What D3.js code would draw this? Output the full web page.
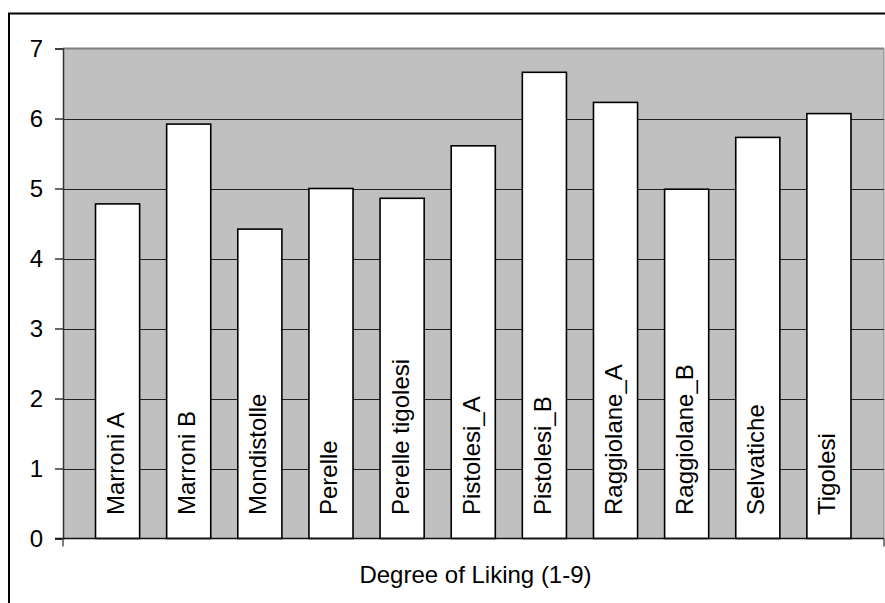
<!DOCTYPE html>
<html>
<head>
<meta charset="utf-8">
<script src="https://cdn.jsdelivr.net/npm/d3@7"></script>
<style>
  html, body { margin: 0; padding: 0; background: #fff; }
  svg { display: block; }
  text { font-family: "Liberation Sans", Arial, sans-serif; fill: #000; }
</style>
</head>
<body>
<svg id="chart" width="885" height="603"></svg>
<script>
// Liking scores per variety
const categories = ["Marroni A", "Marroni B", "Mondistolle", "Perelle", "Perelle tigolesi",
  "Pistolesi_A", "Pistolesi_B", "Raggiolane_A", "Raggiolane_B", "Selvatiche", "Tigolesi"];
const liking = [4.78, 5.92, 4.42, 5.0, 4.86, 5.61, 6.66, 6.23, 4.99, 5.73, 6.07];
const yTicks = [0, 1, 2, 3, 4, 5, 6, 7];
const axisTitle = "Degree of Liking (1-9)";

const svg = d3.select("#chart");

// plot frame
const plot = { left: 63, right: 884, top: 48.5, bottom: 538.5 };

// chart area border (runs past the window edge on the right and bottom)
svg.append("rect")
  .attr("x", 9).attr("y", 13.5)
  .attr("width", 900).attr("height", 620)
  .attr("fill", "#fff").attr("stroke", "#000").attr("stroke-width", 2);

const y = d3.scaleLinear().domain([0, 7]).range([plot.bottom, plot.top]);
const x = d3.scaleBand().domain(categories).range([82, 864.5]).paddingInner(0.38).paddingOuter(0.19);

// plot background
svg.append("rect")
  .attr("x", plot.left).attr("y", plot.top)
  .attr("width", plot.right - plot.left).attr("height", plot.bottom - plot.top)
  .attr("fill", "#c0c0c0");
svg.append("line")
  .attr("x1", plot.left).attr("x2", plot.right)
  .attr("y1", plot.top).attr("y2", plot.top)
  .attr("stroke", "#808080").attr("stroke-width", 2);
svg.append("line")
  .attr("x1", plot.right).attr("x2", plot.right)
  .attr("y1", plot.top).attr("y2", plot.bottom)
  .attr("stroke", "#808080").attr("stroke-width", 1);

// horizontal gridlines
svg.append("g").selectAll("line")
  .data(yTicks.filter(d => d > 0 && d < 7))
  .join("line")
  .attr("x1", plot.left).attr("x2", plot.right)
  .attr("y1", d => Math.round(y(d)) + 0.5).attr("y2", d => Math.round(y(d)) + 0.5)
  .attr("stroke", "#222").attr("stroke-width", 1);

// bars
svg.append("g").selectAll("rect")
  .data(categories)
  .join("rect")
  .attr("x", d => x(d))
  .attr("y", (d, i) => y(liking[i]))
  .attr("width", x.bandwidth())
  .attr("height", (d, i) => y(0) - y(liking[i]))
  .attr("fill", "#fff")
  .attr("stroke", "#000").attr("stroke-width", 1.6);

// category names inside the bars
svg.append("g").selectAll("text")
  .data(categories)
  .join("text")
  .attr("transform", d => `translate(${x(d) + x.bandwidth() / 2 + 6.5},515) rotate(-90)`)
  .attr("text-anchor", "start")
  .attr("font-size", 24)
  .text(d => d);

// y axis
const yAxis = d3.axisLeft(y).tickValues(yTicks).tickSize(8).tickPadding(12).tickFormat(d3.format("d"));
const gy = svg.append("g").attr("transform", `translate(${plot.left},0)`).call(yAxis);
gy.select(".domain").attr("stroke", "#333").attr("stroke-width", 1.5);
gy.selectAll(".tick line").attr("stroke", "#333").attr("stroke-width", 1.5);
gy.selectAll(".tick text").attr("font-size", 24).attr("font-family", "Liberation Sans, Arial, sans-serif").attr("fill", "#000");

// x axis baseline with end ticks
svg.append("line")
  .attr("x1", plot.left - 8).attr("x2", plot.right)
  .attr("y1", y(0)).attr("y2", y(0))
  .attr("stroke", "#111").attr("stroke-width", 1.5);
svg.append("g").selectAll("line")
  .data([plot.left, plot.right])
  .join("line")
  .attr("x1", d => d).attr("x2", d => d)
  .attr("y1", y(0)).attr("y2", y(0) + 8)
  .attr("stroke", "#555").attr("stroke-width", 1.5);

// axis title
svg.append("text")
  .attr("x", (plot.left + plot.right) / 2 + 2)
  .attr("y", 583)
  .attr("text-anchor", "middle")
  .attr("font-size", 24)
  .text(axisTitle);
</script>
</body>
</html>
